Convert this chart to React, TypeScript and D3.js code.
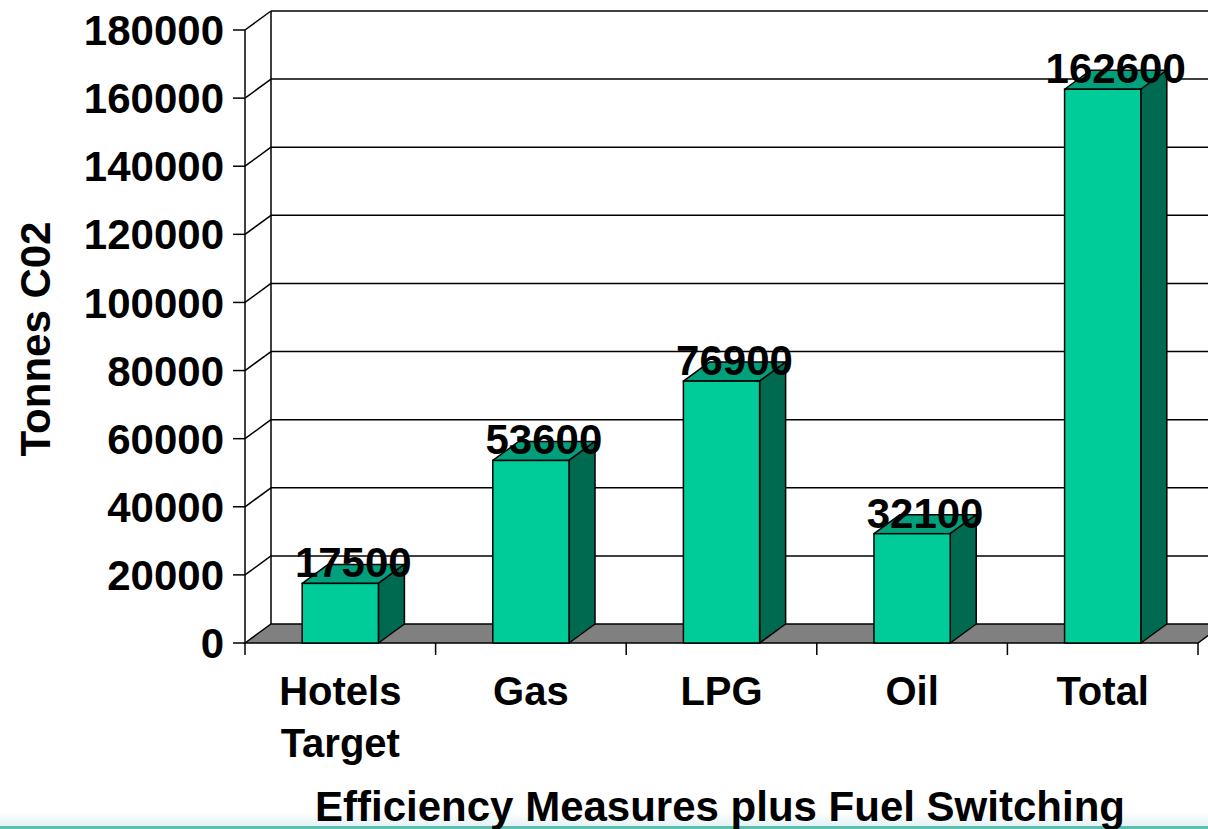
import React, { useEffect, useRef } from "react";
import * as d3 from "d3";

const categories = [["Hotels", "Target"], ["Gas"], ["LPG"], ["Oil"], ["Total"]];
const values = [17500, 53600, 76900, 32100, 162600];
const yTicks = [0, 20000, 40000, 60000, 80000, 100000, 120000, 140000, 160000, 180000];

const width = 1208;
const height = 829;
const depthX = 26;
const depthY = -19;
const font = "'Liberation Sans', Arial, sans-serif";

const App = () => {
  const ref = useRef<SVGSVGElement>(null);

  useEffect(() => {
    const svg = d3.select(ref.current);
    svg.selectAll("*").remove();

    const y = d3.scaleLinear().domain([0, 180000]).range([643, 30]);
    const x = d3
      .scaleBand()
      .domain(categories.map((c, i) => String(i)))
      .range([245, 1198])
      .paddingInner(0.6)
      .paddingOuter(0.3);
    const step = x.step();
    const x0 = 245;
    const x1 = 1198;

    // bottom slide rule
    const defs = svg.append("defs");
    const grad = defs
      .append("linearGradient")
      .attr("id", "fade")
      .attr("x1", 0)
      .attr("x2", 0)
      .attr("y1", 0)
      .attr("y2", 1);
    grad.append("stop").attr("offset", 0).attr("stop-color", "#ffffff");
    grad.append("stop").attr("offset", 1).attr("stop-color", "#e4f2f4");
    svg.append("rect").attr("x", 0).attr("y", 812).attr("width", width).attr("height", 14).attr("fill", "url(#fade)");
    svg.append("rect").attr("x", 0).attr("y", 826).attr("width", width).attr("height", 3).attr("fill", "#5cbdb0");

    // back wall gridlines
    svg
      .append("g")
      .selectAll("line")
      .data(yTicks.slice(1))
      .join("line")
      .attr("x1", x0 + depthX)
      .attr("x2", x1 + depthX + 40)
      .attr("y1", (d) => y(d) + depthY)
      .attr("y2", (d) => y(d) + depthY)
      .attr("stroke", "#000")
      .attr("stroke-width", 1.5);

    // side wall diagonals
    svg
      .append("g")
      .selectAll("line")
      .data(yTicks.slice(1))
      .join("line")
      .attr("x1", x0)
      .attr("x2", x0 + depthX)
      .attr("y1", (d) => y(d))
      .attr("y2", (d) => y(d) + depthY)
      .attr("stroke", "#000")
      .attr("stroke-width", 1.5);

    // back wall left edge
    svg
      .append("line")
      .attr("x1", x0 + depthX)
      .attr("x2", x0 + depthX)
      .attr("y1", y(180000) + depthY)
      .attr("y2", y(0) + depthY)
      .attr("stroke", "#000")
      .attr("stroke-width", 1.5);

    // floor
    svg
      .append("path")
      .attr(
        "d",
        `M${x0},${y(0)}L${x0 + depthX},${y(0) + depthY}L${x1 + depthX},${y(0) + depthY}L${x1},${y(0)}Z`
      )
      .attr("fill", "#808080")
      .attr("stroke", "#000")
      .attr("stroke-width", 1.5);

    // y axis
    svg
      .append("line")
      .attr("x1", x0)
      .attr("x2", x0)
      .attr("y1", y(180000))
      .attr("y2", y(0))
      .attr("stroke", "#000")
      .attr("stroke-width", 1.5);
    svg
      .append("g")
      .selectAll("line")
      .data(yTicks)
      .join("line")
      .attr("x1", 233)
      .attr("x2", x0)
      .attr("y1", (d) => y(d))
      .attr("y2", (d) => y(d))
      .attr("stroke", "#000")
      .attr("stroke-width", 1.5);
    svg
      .append("g")
      .selectAll("text")
      .data(yTicks)
      .join("text")
      .attr("x", 224)
      .attr("y", (d) => y(d))
      .attr("dy", "0.36em")
      .attr("text-anchor", "end")
      .attr("font-family", font)
      .attr("font-weight", 700)
      .attr("font-size", 42)
      .text((d) => d);

    // x axis ticks
    svg
      .append("g")
      .selectAll("line")
      .data(d3.range(categories.length + 1))
      .join("line")
      .attr("x1", (i) => x0 + i * step)
      .attr("x2", (i) => x0 + i * step)
      .attr("y1", y(0))
      .attr("y2", y(0) + 12)
      .attr("stroke", "#000")
      .attr("stroke-width", 1.5);

    // bars
    const bars = svg
      .append("g")
      .selectAll("g")
      .data(values)
      .join("g");
    const bw = x.bandwidth();
    bars
      .append("path")
      .attr("d", (d, i) => {
        const l = x(String(i))!;
        const t = y(d);
        return `M${l},${t}L${l + depthX},${t + depthY}L${l + bw + depthX},${t + depthY}L${l + bw},${t}Z`;
      })
      .attr("fill", "#00a07c")
      .attr("stroke", "#000")
      .attr("stroke-width", 1.5)
      .attr("stroke-linejoin", "round");
    bars
      .append("path")
      .attr("d", (d, i) => {
        const r = x(String(i))! + bw;
        const t = y(d);
        const b = y(0);
        return `M${r},${t}L${r + depthX},${t + depthY}L${r + depthX},${b + depthY}L${r},${b}Z`;
      })
      .attr("fill", "#006a50")
      .attr("stroke", "#000")
      .attr("stroke-width", 1.5)
      .attr("stroke-linejoin", "round");
    bars
      .append("rect")
      .attr("x", (d, i) => x(String(i))!)
      .attr("y", (d) => y(d))
      .attr("width", bw)
      .attr("height", (d) => y(0) - y(d))
      .attr("fill", "#00cc99")
      .attr("stroke", "#000")
      .attr("stroke-width", 1.5);

    // value labels
    svg
      .append("g")
      .selectAll("text")
      .data(values)
      .join("text")
      .attr("x", (d, i) => x(String(i))! + bw / 2 + depthX / 2)
      .attr("y", (d) => y(d) - 6)
      .attr("text-anchor", "middle")
      .attr("font-family", font)
      .attr("font-weight", 700)
      .attr("font-size", 42)
      .text((d) => d);

    // category labels
    const catText = svg
      .append("g")
      .selectAll("text")
      .data(categories)
      .join("text")
      .attr("x", (d, i) => x(String(i))! + bw / 2)
      .attr("y", 705)
      .attr("text-anchor", "middle")
      .attr("font-family", font)
      .attr("font-weight", 700)
      .attr("font-size", 40);
    catText
      .selectAll("tspan")
      .data((d) => d)
      .join("tspan")
      .attr("x", function () {
        return (this as any).parentNode.getAttribute("x");
      })
      .attr("dy", (d, i) => (i === 0 ? 0 : 52))
      .text((d) => d);

    // axis titles
    svg
      .append("text")
      .attr("transform", "translate(50,339) rotate(-90)")
      .attr("text-anchor", "middle")
      .attr("font-family", font)
      .attr("font-weight", 700)
      .attr("font-size", 42)
      .text("Tonnes C02");
    svg
      .append("text")
      .attr("x", 720)
      .attr("y", 821)
      .attr("text-anchor", "middle")
      .attr("font-family", font)
      .attr("font-weight", 700)
      .attr("font-size", 42)
      .text("Efficiency Measures plus Fuel Switching");
  }, []);

  return (
    <svg
      ref={ref}
      width={width}
      height={height}
      viewBox={`0 0 ${width} ${height}`}
      style={{ position: "absolute", left: 0, top: 0, background: "#fff" }}
    ></svg>
  );
};

export default App;
